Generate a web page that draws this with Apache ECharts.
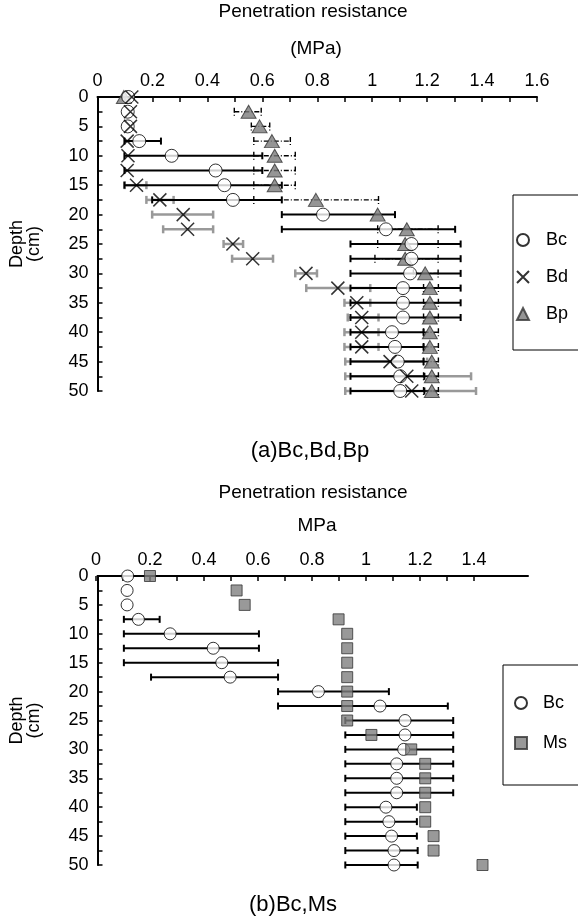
<!DOCTYPE html>
<html><head><meta charset="utf-8">
<script src="https://cdn.jsdelivr.net/npm/echarts@6/dist/echarts.min.js"></script>
<style>html,body{margin:0;padding:0;background:#fff}#c{width:578px;height:918px}</style>
</head><body><div id="c"></div>
<script>
// Depth (cm)
const depths = [0,2.5,5,7.5,10,12.5,15,17.5,20,22.5,25,27.5,30,32.5,35,37.5,40,42.5,45,47.5,50];
// Bc (both panels)
const bcMean = [0.112,0.11,0.11,0.152,0.27,0.43,0.462,0.493,0.821,1.05,1.143,1.143,1.138,1.112,1.112,1.112,1.072,1.083,1.093,1.102,1.102];
const bcLow  = [null,null,null,0.098,0.098,0.098,0.098,0.199,0.671,0.671,0.921,0.921,0.921,0.921,0.921,0.921,0.921,0.921,0.921,0.921,0.921];
const bcHigh = [null,null,null,0.231,0.6,0.6,0.671,0.671,1.083,1.302,1.322,1.322,1.322,1.322,1.322,1.322,1.187,1.187,1.187,1.19,1.19];
// Bd
const bdMean = [0.125,0.12,0.12,0.108,0.111,0.108,0.142,0.227,0.312,0.328,0.493,0.565,0.759,0.875,0.944,0.962,0.962,0.962,1.065,1.126,1.144];
const bdLow  = [null,null,null,null,null,null,0.099,0.178,0.199,0.239,0.459,0.49,0.72,0.76,0.899,0.911,0.899,0.899,0.902,0.902,0.902];
const bdHigh = [null,null,null,null,null,null,0.178,0.277,0.421,0.421,0.53,0.639,0.799,0.993,0.993,1.023,1.023,1.023,1.2,1.36,1.378];
// Bp
const bpMean = [0.096,0.55,0.59,0.635,0.645,0.645,0.645,0.795,1.02,1.126,1.12,1.12,1.193,1.21,1.21,1.21,1.21,1.21,1.217,1.217,1.217];
const bpLow  = [null,0.498,0.56,0.569,0.569,0.569,0.569,0.569,null,1.02,1.02,1.01,1.15,1.187,1.187,1.187,1.187,1.187,1.187,1.187,1.187];
const bpHigh = [null,0.596,0.627,0.702,0.72,0.72,0.72,1.023,null,1.24,1.24,1.24,1.24,1.241,1.241,1.241,1.241,1.241,1.241,1.241,1.241];
// Ms
const msMean = [0.195,0.517,0.547,0.896,0.928,0.928,0.928,0.928,0.928,0.928,0.928,1.018,1.166,1.218,1.218,1.218,1.218,1.218,1.249,1.249,1.431];

const FONT = '"Liberation Sans", Arial, sans-serif';
const chart = echarts.init(document.getElementById('c'), null, {renderer:'canvas'});

function pts(mean){ return depths.map((d,i)=>[mean[i], d]); }
function bars(lo, hi){
  const out = [];
  depths.forEach((d,i)=>{ if(lo[i]!=null && hi[i]!=null) out.push([lo[i], hi[i], d]); });
  return out;
}
function errBar(style, cap){
  return function(params, api){
    const a = api.coord([api.value(0), api.value(2)]);
    const b = api.coord([api.value(1), api.value(2)]);
    const s = () => Object.assign({}, style);
    return {type:'group', children:[
      {type:'line', shape:{x1:a[0],y1:a[1],x2:b[0],y2:b[1]}, style:s()},
      {type:'line', shape:{x1:a[0],y1:a[1]-cap,x2:a[0],y2:a[1]+cap}, style:s()},
      {type:'line', shape:{x1:b[0],y1:b[1]-cap,x2:b[0],y2:b[1]+cap}, style:s()}
    ]};
  };
}
const fmtLab = v => (Math.round(v*10) % 2 === 0) ? String(Math.round(v*10)/10) : '';
const fmtDepth = v => (Math.round(v*10) % 50 === 0) ? String(v) : '';

const xBase = {
  type:'value', position:'top', min:0, interval:0.1, splitLine:{show:false},
  axisLine:{show:true, lineStyle:{color:'#000', width:2}},
  axisTick:{show:true, inside:true, length:5, lineStyle:{color:'#000', width:1.5}},
  axisLabel:{formatter:fmtLab, color:'#000', fontSize:18, fontFamily:FONT, margin:7}
};
const yBase = {
  type:'value', inverse:true, min:0, max:50, interval:2.5, splitLine:{show:false},
  axisLine:{show:true, lineStyle:{color:'#000', width:2}},
  axisTick:{show:true, inside:true, length:5, lineStyle:{color:'#000', width:1.5}},
  axisLabel:{formatter:fmtDepth, color:'#000', fontSize:18, fontFamily:FONT, margin:9},
  name:'Depth\n(cm)', nameLocation:'middle', nameRotate:90, nameGap:55,
  nameTextStyle:{color:'#000', fontSize:18, fontFamily:FONT, lineHeight:17}
};

const circle = {symbol:'circle', symbolSize:13, itemStyle:{color:'#fff', borderColor:'#000', borderWidth:1}};
const tri = {symbol:'triangle', symbolSize:[15,13], itemStyle:{color:'#7a7a7a', borderColor:'#333', borderWidth:1}};
const cross = {symbol:'path://M0,0L10,10M0,10L10,0', symbolSize:13, itemStyle:{color:'rgba(0,0,0,0)', borderColor:'#000', borderWidth:1.5}};
const square = {symbol:'rect', symbolSize:11, itemStyle:{color:'#7f7f7f', borderColor:'#333', borderWidth:1}};

const bcBarStyle = {stroke:'#000', lineWidth:2};
const bdBarStyle = {stroke:'#999', lineWidth:2.5};
const bpBarStyle = {stroke:'#000', lineWidth:1.4, lineDash:[5,2,1,2]};

const titleStyle = {color:'#000', fontSize:19, fontWeight:'normal', fontFamily:FONT};
const capStyle = {color:'#000', fontSize:22, fontWeight:'normal', fontFamily:FONT};

const option = {
  backgroundColor:'#fff',
  animation:false,
  title:[
    {text:'Penetration resistance', left:313, top:2, padding:0, textAlign:'center', textStyle:titleStyle},
    {text:'(MPa)', left:316, top:39, padding:0, textAlign:'center', textStyle:titleStyle},
    {text:'Penetration resistance', left:313, top:483, padding:0, textAlign:'center', textStyle:titleStyle},
    {text:'MPa', left:317, top:516, padding:0, textAlign:'center', textStyle:titleStyle},
    {text:'(a)Bc,Bd,Bp', left:310, top:440, padding:0, textAlign:'center', textStyle:capStyle},
    {text:'(b)Bc,Ms', left:293, top:894, padding:0, textAlign:'center', textStyle:capStyle}
  ],
  grid:[
    {left:97, top:97, width:440, height:294},
    {left:96, top:576, width:432, height:289},
    {left:96, top:576, width:378, height:289}
  ],
  xAxis:[
    Object.assign({}, xBase, {gridIndex:0, max:1.6}),
    Object.assign({}, xBase, {gridIndex:1, max:1.6, axisTick:{show:false}, axisLabel:{show:false}}),
    Object.assign({}, xBase, {gridIndex:2, max:1.4, axisLine:{show:false}})
  ],
  yAxis:[
    Object.assign({}, yBase, {gridIndex:0}),
    Object.assign({}, yBase, {gridIndex:1}),
    {type:'value', gridIndex:2, inverse:true, min:0, max:50, show:false}
  ],
  legend:[
    {data:['Bc','Bd','Bp'], left:513, top:195, orient:'vertical', selectedMode:false,
     borderColor:'#000', borderWidth:1, padding:[36,70,27,3], itemGap:19, itemWidth:12, itemHeight:12,
     textStyle:{color:'#000', fontSize:18, fontFamily:FONT, padding:[0,0,0,12]}},
    {data:['Bc','Ms'], left:503, top:665, orient:'vertical', selectedMode:false,
     borderColor:'#000', borderWidth:1, padding:[29,70,33,11], itemGap:22, itemWidth:12, itemHeight:12,
     textStyle:{color:'#000', fontSize:18, fontFamily:FONT, padding:[0,0,0,11]}}
  ],
  series:[
    {type:'custom', name:'Bd err', xAxisIndex:0, yAxisIndex:0, data:bars(bdLow, bdHigh), encode:{x:[0,1], y:2}, renderItem:errBar(bdBarStyle, 4), z:2},
    {type:'custom', name:'Bc err', xAxisIndex:0, yAxisIndex:0, data:bars(bcLow, bcHigh), encode:{x:[0,1], y:2}, renderItem:errBar(bcBarStyle, 3.5), z:3},
    {type:'custom', name:'Bp err', xAxisIndex:0, yAxisIndex:0, data:bars(bpLow, bpHigh), encode:{x:[0,1], y:2}, renderItem:errBar(bpBarStyle, 4), z:4},
    Object.assign({type:'scatter', name:'Bp', xAxisIndex:0, yAxisIndex:0, data:pts(bpMean), z:5}, tri),
    Object.assign({type:'scatter', name:'Bc', xAxisIndex:0, yAxisIndex:0, data:pts(bcMean), z:6}, circle),
    Object.assign({type:'scatter', name:'Bd', xAxisIndex:0, yAxisIndex:0, data:pts(bdMean), z:7}, cross),
    {type:'custom', name:'Bc err b', xAxisIndex:1, yAxisIndex:1, data:bars(bcLow, bcHigh), encode:{x:[0,1], y:2}, renderItem:errBar(bcBarStyle, 3.5), z:3},
    Object.assign({type:'scatter', name:'Bc', xAxisIndex:1, yAxisIndex:1, data:pts(bcMean), z:6}, circle, {symbolSize:12}),
    Object.assign({type:'scatter', name:'Ms', xAxisIndex:1, yAxisIndex:1, data:pts(msMean), z:7}, square)
  ]
};
chart.setOption(option);
</script>
</body></html>
